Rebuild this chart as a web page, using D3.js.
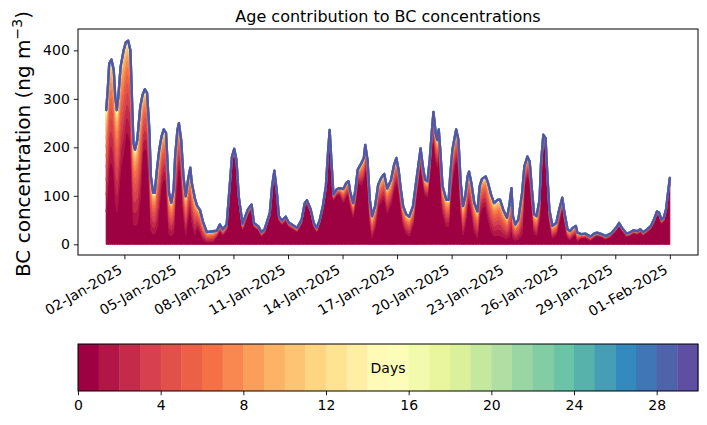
<!DOCTYPE html>
<html>
<head>
<meta charset="utf-8">
<script src="https://cdn.jsdelivr.net/npm/d3@7"></script>
<style>
  body { margin: 0; background: #fff; }
  svg { font-family: "DejaVu Sans", sans-serif; }
</style>
</head>
<body>
<svg id="chart" width="707" height="425"></svg>
<script>
// hours since 01-Jan-2025 00:00
const hours = [0,2,4,7,10,12,14,16,19,23,26,29,32,34,36,38,41,45,48,51,54,57,59,62,64,67,70,73,76,79,
  81,83,86,89,91,94,96,99,102,105,108,111,113,117,120,124,128,133,137,141,146,150,154,159,163,166,169,172,175,180,
  183,187,192,195,201,205,209,216,219,222,225,228,232,237,241,247,252,258,262,265,270,274,278,282,286,290,293,295,297,300,
  304,308,313,317,320,322,326,329,332,337,340,342,345,348,351,355,359,363,367,371,376,380,383,386,389,392,396,400,405,409,
  413,415,418,421,424,427,430,432,435,437,439,441,444,449,452,454,457,461,462,465,468,471,474,477,479,482,486,490,493,496,
  501,504,508,512,517,520,524,529,532,535,537,540,544,549,552,556,559,562,565,568,572,574,577,580,582,585,589,594,598,602,
  605,609,612,616,620,622,627,633,639,644,648,654,659,666,673,677,681,687,692,696,701,705,709,714,719,723,727,730,733,736,
  739,741,744];
// total BC, ng m-3
const totalBC = [277,318,373,381,359,304,277,304,366,400,417,420,400,304,209,195,215,284,308,320,312,236,140,106,106,154,195,222,237,230,
  168,106,86,113,181,236,250,215,140,99,133,158,127,95,80,70,45,25,26,27,28,41,31,41,120,181,197,174,99,42,
  55,72,82,44,37,25,31,65,120,152,113,58,49,57,45,39,34,51,85,91,72,44,34,51,79,120,195,236,181,103,
  113,116,114,127,130,109,85,113,154,168,178,205,174,92,58,79,123,137,145,115,133,164,178,154,113,79,62,57,79,127,
  174,198,161,133,130,174,236,273,229,215,237,195,120,92,92,140,195,229,237,215,127,79,99,140,150,127,85,68,120,135,
  140,127,103,85,92,92,72,55,79,116,58,41,51,106,161,181,171,113,62,58,92,168,226,219,154,72,38,44,72,96,
  65,31,27,34,38,24,21,22,16,22,24,21,17,22,34,44,34,22,25,29,27,31,25,31,38,51,68,65,51,55,
  72,99,137];
// BC older than one day, per calendar day (01-Jan .. 01-Feb)
const agedPerDay = [210,190,120,100,80,45,12,12,8,8,8,8,12,28,45,50,40,32,55,60,60,75,85,40,25,18,8,6,6,6,8,15];
// how the aged part splits over the age bins 1..29 days
const ageShare = [0.17,0.15,0.13,0.11,0.095,0.085,0.075,0.06,0.045,0.032,0.022,0.015,0.01,0.007,0.005,
  0.004,0.003,0.0025,0.002,0.0015,0.0012,0.001,0.0008,0.0006,0.0005,0.0004,0.0003,0.0003,0.0002];
const nAges = 30;
const yTicks = [0, 100, 200, 300, 400];
const dateTicks = ["2025-01-02","2025-01-05","2025-01-08","2025-01-11","2025-01-14","2025-01-17",
  "2025-01-20","2025-01-23","2025-01-26","2025-01-29","2025-02-01"];
const cbTicks = [0, 4, 8, 12, 16, 20, 24, 28];

const margin = { top: 29, right: 9, left: 78 };
const plotBottom = 255;
const W = 707;
const start = new Date(2025, 0, 1);
const dayMs = 864e5;
const shareSum = d3.sum(ageShare);

const rows = hours.map((h, i) => {
  const tot = totalBC[i];
  const aged = Math.min(agedPerDay[Math.floor(h / 24)], tot * 0.8);
  const v = [tot - aged].concat(ageShare.map(s => aged * s / shareSum));
  return { t: new Date(+start + h * 36e5), v };
});

const spectral = d3.piecewise(d3.interpolateRgb, ["#9e0142","#d53e4f","#f46d43","#fdae61","#fee08b",
  "#ffffbf","#e6f598","#abdda4","#66c2a5","#3288bd","#5e4fa2"]);
const color = k => spectral(k / (nAges - 1));

const svg = d3.select("#chart");

const x = d3.scaleTime()
  .domain([new Date(+start - 1.55 * dayMs), new Date(+start + 32.55 * dayMs)])
  .range([margin.left, W - margin.right]);
const y = d3.scaleLinear()
  .domain([-22, 444])
  .range([plotBottom, margin.top]);

const series = d3.stack()
  .keys(d3.range(nAges))
  .value((d, k) => d.v[k])(rows);

const area = d3.area()
  .x(d => x(d.data.t))
  .y0(d => y(d[0]))
  .y1(d => y(d[1]));

svg.append("g")
  .selectAll("path")
  .data(series)
  .join("path")
  .attr("d", area)
  .attr("fill", (d, k) => color(k))
  .attr("stroke", (d, k) => color(k))
  .attr("stroke-width", (d, k) => (k >= 26 && k < 29) ? 2.3 : 1.0)
  .attr("stroke-linejoin", "round");

// axes
const xAxis = svg.append("g")
  .attr("transform", `translate(0,${plotBottom})`)
  .call(d3.axisBottom(x)
    .tickValues(dateTicks.map(s => d3.timeParse("%Y-%m-%d")(s)))
    .tickFormat(d3.timeFormat("%d-%b-%Y"))
    .tickSize(4.2)
    .tickSizeOuter(0));
xAxis.select(".domain").remove();
xAxis.selectAll("line").attr("stroke", "#000").attr("stroke-width", 0.9);
xAxis.selectAll("text")
  .attr("font-size", 14)
  .attr("font-family", "DejaVu Sans")
  .attr("fill", "#000")
  .attr("text-anchor", "end")
  .attr("y", 0).attr("dy", 0)
  .attr("transform", "translate(-1.7,17.5) rotate(-30)");

const yAxis = svg.append("g")
  .attr("transform", `translate(${margin.left},0)`)
  .call(d3.axisLeft(y).tickValues(yTicks).tickSize(4.2).tickPadding(4));
yAxis.select(".domain").remove();
yAxis.selectAll("line").attr("stroke", "#000").attr("stroke-width", 0.9);
yAxis.selectAll("text")
  .attr("font-size", 14)
  .attr("font-family", "DejaVu Sans")
  .attr("fill", "#000");

svg.append("rect")
  .attr("x", margin.left).attr("y", margin.top)
  .attr("width", W - margin.right - margin.left)
  .attr("height", plotBottom - margin.top)
  .attr("fill", "none").attr("stroke", "#000").attr("stroke-width", 1);

svg.append("text")
  .attr("x", (margin.left + W - margin.right) / 2)
  .attr("y", 22)
  .attr("text-anchor", "middle")
  .attr("font-size", 16)
  .text("Age contribution to BC concentrations");

const yl = svg.append("text")
  .attr("transform", "translate(30,144) rotate(-90)")
  .attr("text-anchor", "middle")
  .attr("font-size", 20);
yl.append("tspan").text("BC concentration (ng m");
yl.append("tspan").attr("font-size", 14).attr("dy", -8).text("\u22123");
yl.append("tspan").attr("dy", 8).text(")");

// colorbar
const cbTop = 344, cbH = 47;
const cx = d3.scaleLinear().domain([0, nAges]).range([margin.left, W - margin.right]);
svg.append("g")
  .selectAll("rect")
  .data(d3.range(nAges))
  .join("rect")
  .attr("x", k => cx(k))
  .attr("y", cbTop)
  .attr("width", k => cx(k + 1) - cx(k) + 0.4)
  .attr("height", cbH)
  .attr("fill", k => color(k));
svg.append("rect")
  .attr("x", cx(0)).attr("y", cbTop)
  .attr("width", cx(nAges) - cx(0)).attr("height", cbH)
  .attr("fill", "none").attr("stroke", "#000").attr("stroke-width", 1);

const cbAxis = svg.append("g")
  .attr("transform", `translate(0,${cbTop + cbH})`)
  .call(d3.axisBottom(cx).tickValues(cbTicks).tickSize(4.2).tickPadding(5));
cbAxis.select(".domain").remove();
cbAxis.selectAll("line").attr("stroke", "#000").attr("stroke-width", 0.9);
cbAxis.selectAll("text")
  .attr("font-size", 14)
  .attr("font-family", "DejaVu Sans")
  .attr("fill", "#000");

svg.append("text")
  .attr("x", (cx(0) + cx(nAges)) / 2)
  .attr("y", cbTop + cbH / 2 + 5)
  .attr("text-anchor", "middle")
  .attr("font-size", 14)
  .text("Days");
</script>
</body>
</html>
